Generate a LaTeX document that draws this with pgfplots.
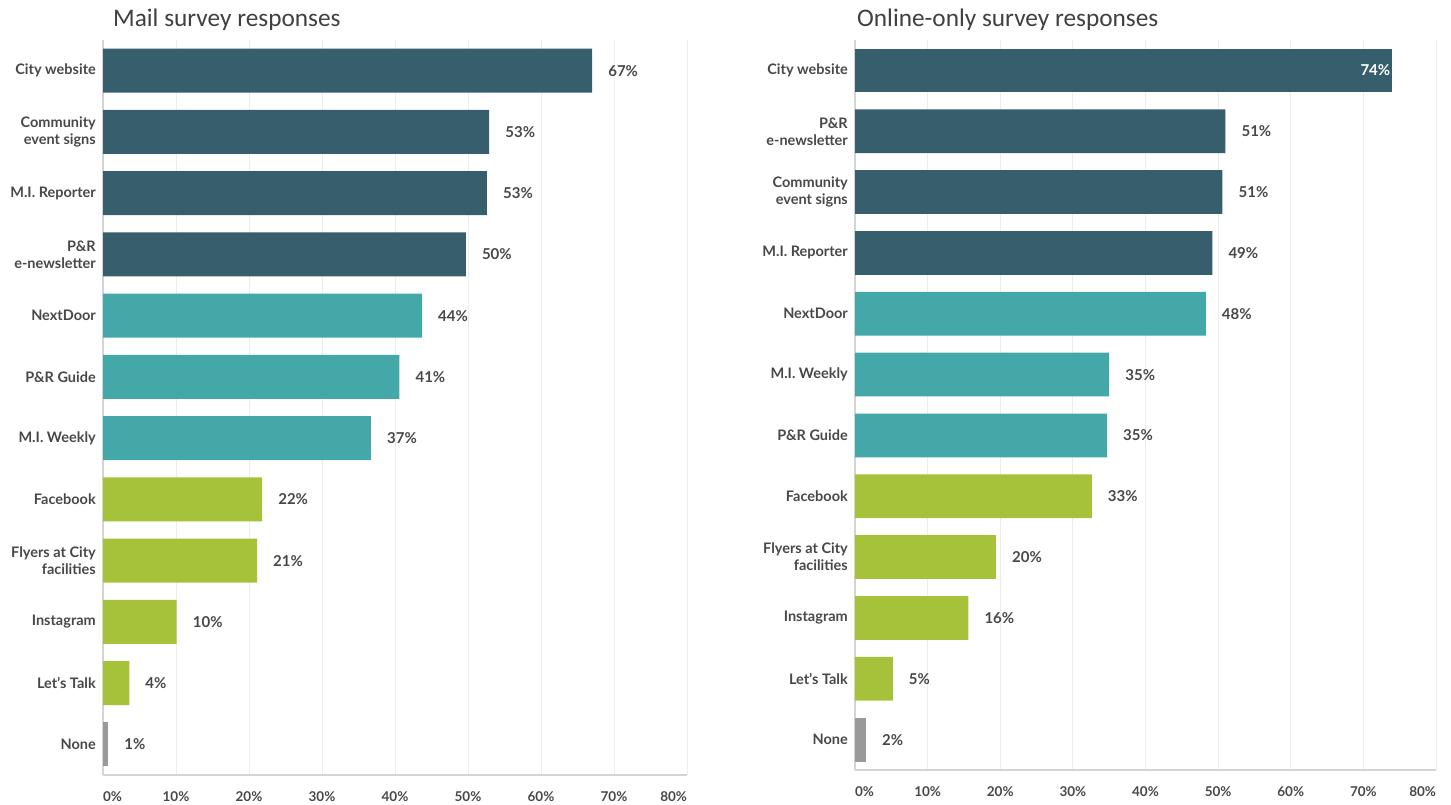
\documentclass[border=0pt]{standalone}
\usepackage{fontspec}
\setmainfont{Lato}
\newfontfamily\titlefont{Carlito}
\usepackage{pgfplots}
\pgfplotsset{compat=1.18}
\definecolor{cdark}{HTML}{365E6C}
\definecolor{cteal}{HTML}{43A8A7}
\definecolor{cgreen}{HTML}{A6C13A}
\definecolor{cgray}{HTML}{9A9A9A}
\definecolor{txtgray}{HTML}{484848}
\definecolor{titlegray}{HTML}{404040}
\definecolor{gridgray}{HTML}{EDEDED}
\definecolor{axisgray}{HTML}{D4D4D4}
\pgfplotsset{
  mybars/.style={
    scale only axis, xmin=0, xmax=80, ymin=-0.5, ymax=11.5, y dir=reverse,
    xtick={0,10,...,80}, ytick={0,...,11},
    xticklabels={\makebox[0pt][l]{0\%},10\%,20\%,30\%,40\%,50\%,60\%,70\%,\makebox[0pt][r]{80\%}},
    major tick length=0pt,
    xmajorgrids, grid style={draw=gridgray, line width=1pt},
    axis x line*=bottom, axis y line*=left,
    axis line style={draw=axisgray, line width=1.2pt},
    xticklabel style={font=\bfseries\fontsize{13.5}{15}\selectfont, text=txtgray, inner sep=0pt, anchor=north, yshift=-16pt},
    yticklabel style={font=\bfseries\fontsize{14.5}{17}\selectfont, text=txtgray, align=right, inner sep=0pt, anchor=east, xshift=-7pt},
    every axis plot/.append style={xbar, bar width=0.72, bar shift=0pt, draw=none,
      point meta=explicit symbolic},
    nodes near coords style={anchor=west, inner sep=0pt, xshift=16pt,
      font=\bfseries\fontsize{15}{17}\selectfont, text=txtgray},
  }
}
\begin{document}
\begin{tikzpicture}
\path[use as bounding box] (0pt,0pt) rectangle (1451pt,-805pt);
\node[anchor=base west, inner sep=0pt, font=\titlefont\fontsize{25.3}{28}\selectfont, text=titlegray] at (113pt,-27pt) {Mail survey responses};
\node[anchor=base west, inner sep=0pt, font=\titlefont\fontsize{25.3}{28}\selectfont, text=titlegray] at (857pt,-27pt) {Online-only survey responses};

\begin{axis}[mybars, at={(103pt,-775pt)}, anchor=south west, width=584pt, height=735pt,
  yticklabels={City website,{Community\\event signs},M.I. Reporter,{P\&R\\e-newsletter},NextDoor,P\&R Guide,M.I. Weekly,Facebook,{Flyers at City\\facilities},Instagram,Let's Talk,None}]
\addplot[fill=cdark, nodes near coords] coordinates {(67,0) [67\%] (52.9,1) [53\%] (52.6,2) [53\%] (49.7,3) [50\%]};
\addplot[fill=cteal, nodes near coords] coordinates {(43.7,4) [44\%] (40.6,5) [41\%] (36.7,6) [37\%]};
\addplot[fill=cgreen, nodes near coords] coordinates {(21.8,7) [22\%] (21.1,8) [21\%] (10.1,9) [10\%] (3.6,10) [4\%]};
\addplot[fill=cgray, nodes near coords] coordinates {(0.7,11) [1\%]};
\end{axis}

\begin{axis}[mybars, at={(855pt,-770pt)}, anchor=south west, width=581pt, height=730pt,
  yticklabels={City website,{P\&R\\e-newsletter},{Community\\event signs},M.I. Reporter,NextDoor,M.I. Weekly,P\&R Guide,Facebook,{Flyers at City\\facilities},Instagram,Let's Talk,None}]
\addplot[fill=cdark] coordinates {(74,0) [74\%]};
\addplot[fill=none, nodes near coords, nodes near coords style={anchor=east, xshift=-18pt, text=white}] coordinates {(74,0) [74\%]};
\addplot[fill=cdark, nodes near coords] coordinates {(51.0,1) [51\%] (50.6,2) [51\%] (49.2,3) [49\%]};
\addplot[fill=cteal, nodes near coords] coordinates {(48.3,4) [48\%] (35.0,5) [35\%] (34.7,6) [35\%]};
\addplot[fill=cgreen, nodes near coords] coordinates {(32.6,7) [33\%] (19.4,8) [20\%] (15.6,9) [16\%] (5.2,10) [5\%]};
\addplot[fill=cgray, nodes near coords] coordinates {(1.5,11) [2\%]};
\end{axis}
\end{tikzpicture}
\end{document}
